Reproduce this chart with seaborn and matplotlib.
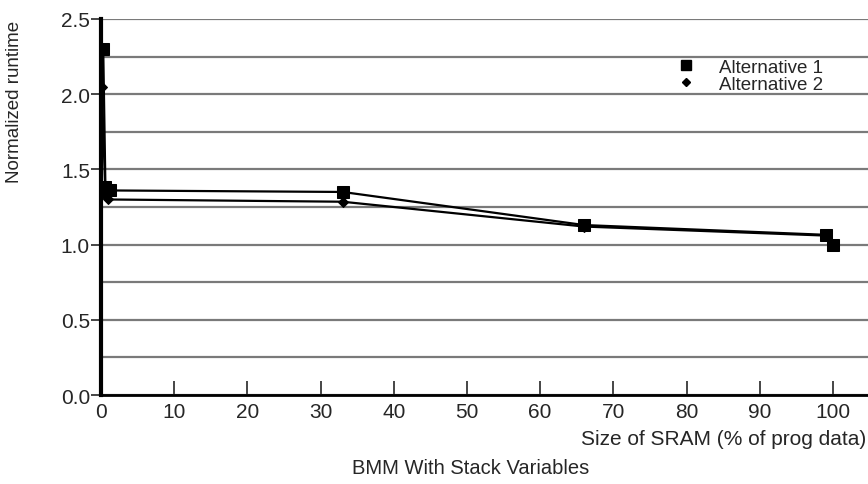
import matplotlib
matplotlib.use("Agg")
import matplotlib.pyplot as plt
from matplotlib.lines import Line2D
import numpy as np
import pandas as pd
import seaborn as sns

# values
alt1_x = [0.3, 0.6, 1.2, 33, 66, 99, 100]
alt1_y = [2.30, 1.38, 1.36, 1.35, 1.13, 1.065, 1.00]
alt2_x = [0.1, 0.6, 1.0, 33, 66, 99]
alt2_y = [2.05, 1.33, 1.30, 1.285, 1.12, 1.06]
series_names = ["Alternative 1", "Alternative 2"]

df = pd.concat([
    pd.DataFrame({"size": alt1_x, "runtime": alt1_y, "series": series_names[0]}),
    pd.DataFrame({"size": alt2_x, "runtime": alt2_y, "series": series_names[1]}),
])

sns.set_style("white")
plt.rcParams["font.family"] = ["Liberation Sans", "DejaVu Sans"]

fig = plt.figure(figsize=(8.68, 4.85), dpi=100)
ax = fig.add_axes([0.1164, 0.1835, 0.8836, 0.7753])

markers = {"Alternative 1": "s", "Alternative 2": "D"}
sizes = {"Alternative 1": 8.5, "Alternative 2": 5.5}
for name in series_names:
    sub = df[df["series"] == name]
    sns.lineplot(data=sub, x="size", y="runtime", ax=ax, color="black",
                 marker=markers[name], markersize=sizes[name], linewidth=1.6,
                 markeredgecolor="black", estimator=None, sort=False, legend=False)

ax.set_xlim(0, 104.8)
ax.set_ylim(0, 2.5)
ax.set_xticks(np.arange(0, 101, 10))
ax.set_yticks(np.arange(0, 2.51, 0.5))
ax.set_yticklabels([f"{v:.1f}" for v in np.arange(0, 2.51, 0.5)])
ax.set_yticks(np.arange(0.25, 2.5, 0.5), minor=True)
ax.yaxis.grid(True, which="both", color="#7a7a7a", linewidth=1.6)
ax.xaxis.grid(False)
ax.set_axisbelow(True)

for s in ["top", "right"]:
    ax.spines[s].set_visible(False)
ax.spines["left"].set_linewidth(3)
ax.spines["left"].set_color("black")
ax.spines["bottom"].set_linewidth(2)
ax.spines["bottom"].set_color("black")

ax.tick_params(axis="y", which="major", direction="out", length=7, width=1.2,
               labelsize=15, left=True, pad=1)
ax.tick_params(axis="y", which="minor", length=0)
ax.tick_params(axis="x", direction="in", length=10, width=1.2, labelsize=15,
               bottom=True, pad=5)

ax.set_xlabel("")
ax.set_ylabel("")
fig.text(0.998, 0.093, "Size of SRAM (% of prog data)", fontsize=15,
         ha="right", va="center")
fig.text(0.017, 0.79, "Normalized runtime", fontsize=13.5, rotation=90,
         ha="center", va="center")
fig.text(0.542, 0.034, "BMM With Stack Variables", fontsize=14.5,
         ha="center", va="center")

handles = [Line2D([], [], color="black", linestyle="none", marker=markers[n],
                  markersize=sizes[n] - 1) for n in series_names]
ax.legend(handles, series_names, loc="upper left", bbox_to_anchor=(0.727, 0.93),
          frameon=False, fontsize=13.5, handlelength=1.5, handletextpad=1.0,
          labelspacing=0.0, borderpad=0.2)

fig.savefig("out.png", dpi=100)
